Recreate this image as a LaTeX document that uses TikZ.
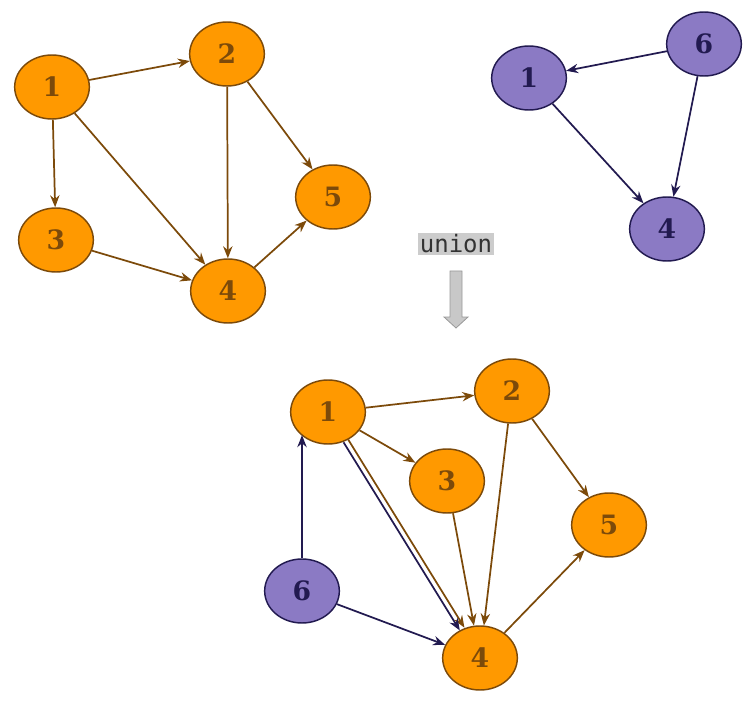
\documentclass[tikz,border=0pt]{standalone}
\usepackage{fontspec}
\newfontfamily\numfont{DejaVu Serif}
\newfontfamily\codefont{DejaVu Sans Mono}
\usetikzlibrary{arrows.meta,shapes.geometric}
\definecolor{nodeorange}{RGB}{255,153,0}
\definecolor{edgebrown}{RGB}{124,74,10}
\definecolor{nodepurple}{RGB}{139,122,196}
\definecolor{edgenavy}{RGB}{34,26,80}
\definecolor{unionbox}{RGB}{204,204,204}
\definecolor{arrowgray}{RGB}{200,200,200}
\tikzset{
  onode/.style={ellipse,draw=edgebrown,fill=nodeorange,line width=1.1pt,minimum width=56pt,minimum height=48pt,inner sep=0pt,text=edgebrown,font=\numfont\bfseries\fontsize{20}{20}\selectfont},
  pnode/.style={onode,draw=edgenavy,fill=nodepurple,text=edgenavy},
  oedge/.style={edgebrown,line width=1.3pt,-{Stealth[length=9pt,width=7pt]}},
  pedge/.style={oedge,edgenavy},
  oplabel/.style={fill=unionbox,inner sep=1.5pt,text=black!80,font=\codefont\fontsize{18}{18}\selectfont},
  every picture/.style={x=0.75pt,y=-0.75pt}
}
\begin{document}
\begin{tikzpicture}
  \useasboundingbox (0,0) rectangle (753,702);
  % first graph
  \node[onode] (a1) at (52,87) {1}; \node[onode] (a2) at (227,54) {2}; \node[onode] (a3) at (56,240) {3};
  \node[onode] (a4) at (228,291) {4}; \node[onode] (a5) at (333,197) {5};
  \draw[oedge] (a1) -- (a2); \draw[oedge] (a1) -- (a3); \draw[oedge] (a1) -- (a4); \draw[oedge] (a2) -- (a4);
  \draw[oedge] (a2) -- (a5); \draw[oedge] (a3) -- (a4); \draw[oedge] (a4) -- (a5);
  % second graph
  \node[pnode] (b1) at (529,78) {1}; \node[pnode] (b6) at (704,44) {6}; \node[pnode] (b4) at (667,229) {4};
  \draw[pedge] (b6) -- (b1); \draw[pedge] (b1) -- (b4); \draw[pedge] (b6) -- (b4);
  % operation
  \node[oplabel] (op) at (456,244) {union};
  \draw[gray!80,fill=arrowgray,line width=0.6pt] (450,271) -- (462,271) -- (462,317) -- (468,317) -- (456,328) -- (444,317) -- (450,317) -- cycle;
  % result
  \node[onode] (c1) at (328,412) {1}; \node[onode] (c2) at (512,391) {2}; \node[onode] (c3) at (447,481) {3};
  \node[onode] (c5) at (609,525) {5}; \node[pnode] (c6) at (302,591) {6}; \node[onode] (c4) at (480,658) {4};
  \draw[oedge] (c1) -- (c2); \draw[oedge] (c1) -- (c3); \draw[oedge] (c2) -- (c4); \draw[oedge] (c2) -- (c5);
  \draw[oedge] (c3) -- (c4); \draw[oedge] (c4) -- (c5);
  \draw[oedge,transform canvas={shift={(2.3,-1.4)}}] (c1) -- (c4);
  \draw[pedge,transform canvas={shift={(-2.3,1.4)}}] (c1) -- (c4);
  \draw[pedge] (c6) -- (c6 |- c1.south west); \draw[pedge] (c6) -- (c4);
\end{tikzpicture}
\end{document}
